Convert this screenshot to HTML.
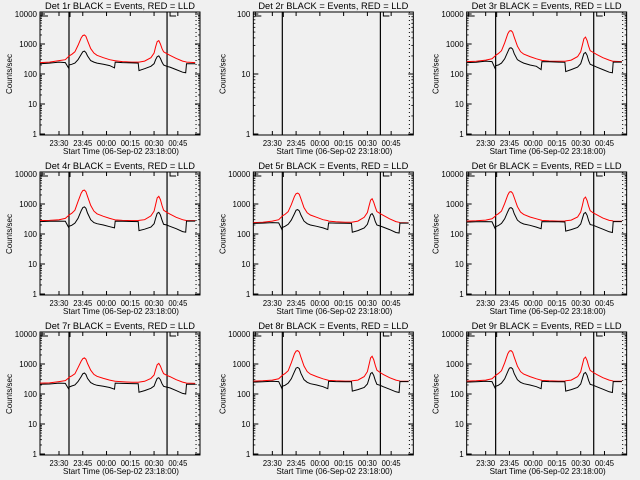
<!DOCTYPE html>
<html><head><meta charset="utf-8"><style>
html,body{margin:0;padding:0;background:#f0f0f0;}
svg{display:block;font-family:"Liberation Sans",sans-serif;}
</style></head><body>
<svg id="c" width="640" height="480" viewBox="0 0 640 480"></svg>
<script>
const titles=["Det 1r","Det 2r","Det 3r","Det 4r","Det 5r","Det 6r","Det 7r","Det 8r","Det 9r"];
const tickLabels=["23:30","23:45","00:00","00:15","00:30","00:45"];
const tickTimes=[12,27,42,57,72,87];
const markerTimes=[18.3,80.2];
const dottedTime=98.5;
const times=[0,6,12,16,18,18.3,20,22,24,26,27,28,29,30,32,34,36,40,44,47,47.5,52,58,62,62.5,66,70,72,73,74,75,76,77,78,80,82,86,90,92,92.5,98];
const red1=[240,250,280,300,380,400,450,550,900,1600,1900,2000,1800,1300,700,500,420,350,300,280,275,260,250,250,250,270,350,500,800,1200,1300,1000,700,550,480,420,330,270,255,250,240];
const blk1=[220,230,250,240,160,200,210,230,300,450,550,580,520,400,280,250,230,210,190,160,250,240,235,230,130,150,180,220,300,380,400,330,250,200,180,170,140,115,110,220,220];
const red3=[260,265,290,320,400,420,480,600,1100,2200,2700,2800,2500,1700,850,560,460,380,320,290,285,270,265,265,270,290,380,550,900,1500,1700,1300,850,600,520,450,350,290,270,265,260];
const blk3=[240,245,270,260,150,190,200,230,320,550,720,750,680,480,300,260,230,200,180,140,260,255,250,245,120,140,170,220,320,480,520,420,280,210,190,170,140,115,110,250,250];
const red4=[280,285,300,330,410,430,490,620,1200,2300,2800,2900,2600,1800,900,580,470,390,330,300,295,285,280,280,285,300,400,580,950,1600,1800,1400,900,620,530,460,360,300,285,280,280];
const blk4=[260,265,270,265,170,180,195,230,330,600,760,800,720,500,300,240,220,200,175,160,270,265,262,260,130,145,170,220,330,490,530,430,290,210,200,180,150,120,115,270,270];
const red5=[240,245,270,300,380,400,450,560,950,1800,2200,2300,2100,1500,750,510,430,360,300,280,270,255,245,245,250,270,360,520,850,1350,1500,1150,780,560,480,420,320,260,245,240,235];
const blk5=[225,230,240,235,145,165,180,210,290,480,620,650,590,430,270,220,200,180,160,140,235,230,228,225,115,130,160,210,310,440,480,390,260,200,185,170,140,112,108,230,230];
const red6=[270,275,290,320,390,420,470,580,1050,2000,2500,2600,2300,1650,820,540,450,370,320,290,285,275,270,270,275,290,370,540,880,1500,1700,1300,850,600,500,440,340,285,275,270,265];
const blk6=[250,255,260,255,150,175,190,225,320,560,720,760,690,480,290,240,215,195,170,150,260,258,255,252,125,140,165,215,320,480,520,420,280,205,195,175,145,118,112,260,260];
const red7=[230,235,260,280,340,360,400,470,750,1250,1500,1600,1450,1050,620,450,390,330,290,270,265,255,245,245,250,265,330,430,650,950,1050,850,620,480,420,380,300,250,235,230,225];
const blk7=[210,215,230,225,150,170,185,200,260,380,470,500,450,330,240,210,195,180,165,145,230,225,222,220,115,130,155,185,250,330,350,300,220,180,170,160,130,105,100,210,210];
const red8=[270,275,290,320,400,420,480,600,1100,2200,2700,2800,2500,1700,860,560,460,380,320,290,285,275,270,270,275,290,380,560,950,1600,1800,1400,900,620,520,450,350,290,275,270,265];
const blk8=[250,255,265,260,155,180,195,230,320,560,730,770,700,490,300,245,220,200,175,150,265,260,258,255,125,140,165,215,320,480,520,420,285,210,195,175,145,118,112,260,260];
const red9=[270,275,290,320,400,420,480,600,1100,2200,2700,2800,2500,1700,850,560,460,380,320,290,285,275,270,270,275,290,380,550,920,1500,1700,1300,860,610,520,450,350,290,275,270,265];
const blk9=[250,255,265,260,155,180,195,230,320,560,730,760,690,480,300,245,220,200,175,150,265,260,258,255,125,140,165,215,320,480,520,420,285,210,195,175,145,118,112,260,260];
const redSeries=[red1,[],red3,red4,red5,red6,red7,red8,red9];
const blkSeries=[blk1,[],blk3,blk4,blk5,blk6,blk7,blk8,blk9];
const yMaxDecade=[4,2,4,4,4,4,4,4,4];

const NS="http://www.w3.org/2000/svg";
const svg=document.getElementById('c');
function mk(tag,attrs,parent){const e=document.createElementNS(NS,tag);for(const k in attrs)e.setAttribute(k,attrs[k]);(parent||svg).appendChild(e);return e;}
const T0=0,T1=101;
for(let p=0;p<9;p++){
  const ox=(p%3)*213.33, oy=Math.floor(p/3)*160;
  const L=ox+40,R=ox+200,TOP=oy+12,BOT=oy+135;
  const dec=yMaxDecade[p];
  const xs=t=>L+(t-T0)/(T1-T0)*(R-L);
  const ys=v=>oy+134-Math.log10(v)*(120/dec);
  const g=mk('g',{});
  
  
  const title=mk('text',{x:ox+120,y:oy+9,'font-size':'9','text-anchor':'middle',textLength:150,lengthAdjust:'spacingAndGlyphs',fill:'#000'},g);
  title.textContent=titles[p]+" BLACK = Events, RED = LLD";
  
  
  const fr=mk('rect',{x:L,y:TOP,width:R-L,height:BOT-TOP,fill:'none',stroke:'#000','stroke-width':1},g);
  
  
  for(let d=0;d<=dec;d++){
    const y=ys(Math.pow(10,d));
    mk('line',{x1:L,x2:L+5,y1:y,y2:y,stroke:'#000'},g);
    mk('line',{x1:R-5,x2:R,y1:y,y2:y,stroke:'#000'},g);
    const tl=mk('text',{x:L-3,y:y+3,'font-size':'8','text-anchor':'end',fill:'#000'},g);
    tl.textContent=String(Math.pow(10,d));
    
    
    if(d<dec){for(let m=2;m<10;m++){const yy=ys(m*Math.pow(10,d));
      mk('line',{x1:L,x2:L+2,y1:yy,y2:yy,stroke:'#000','stroke-width':0.8},g);
      mk('line',{x1:R-2,x2:R,y1:yy,y2:yy,stroke:'#000','stroke-width':0.8},g);}}
  }
  const yl=mk('text',{x:0,y:0,'font-size':'8','text-anchor':'middle',fill:'#000',transform:`translate(${ox+12},${oy+74}) rotate(-90)`},g);
  yl.textContent="Counts/sec";
  
  
  for(let i=0;i<tickTimes.length;i++){
    const x=xs(tickTimes[i]);
    mk('line',{x1:x,x2:x,y1:BOT,y2:BOT-4,stroke:'#000'},g);
    mk('line',{x1:x,x2:x,y1:TOP,y2:TOP+4,stroke:'#000'},g);
    const tl=mk('text',{x:x,y:oy+146,'font-size':'8','text-anchor':'middle',textLength:19,lengthAdjust:'spacingAndGlyphs',fill:'#000'},g);
    tl.textContent=tickLabels[i];
    
    
  }
  const xl=mk('text',{x:ox+121,y:oy+154,'font-size':'8.5','text-anchor':'middle',textLength:116,lengthAdjust:'spacingAndGlyphs',fill:'#000'},g);
  xl.textContent="Start Time (06-Sep-02 23:18:00)";
  
  
  markerTimes.forEach(t=>{const x=xs(t);
    const ln=mk('line',{x1:x,x2:x,y1:TOP,y2:BOT,stroke:'#000','stroke-width':1.2},g);
    
    });
  const dl=mk('line',{x1:xs(dottedTime),x2:xs(dottedTime),y1:TOP,y2:BOT,stroke:'#000','stroke-dasharray':'1,3'},g);
  
  
  [[L+2,TOP],[xs(markerTimes[1])+3,TOP]].forEach(([x,y])=>{
    mk('polyline',{points:`${x},${y} ${x},${y+4} ${x+6},${y+4}`,fill:'none',stroke:'#000'},g);});
  mk('line',{x1:xs(markerTimes[0])+1,x2:xs(markerTimes[0])+1,y1:TOP,y2:TOP+5,stroke:'#000'},g);
  const draw=(arr,col,name)=>{
    if(!arr.length)return;
    const pts=arr.map((v,i)=>xs(times[i]).toFixed(1)+','+ys(v).toFixed(1)).join(' ');
    const pl=mk('polyline',{points:pts,fill:'none',stroke:col,'stroke-width':1},g);
    
    
  };
  draw(redSeries[p],'#ff0000','lld-series');
  draw(blkSeries[p],'#000000','events-series');
}
</script>
</body></html>
